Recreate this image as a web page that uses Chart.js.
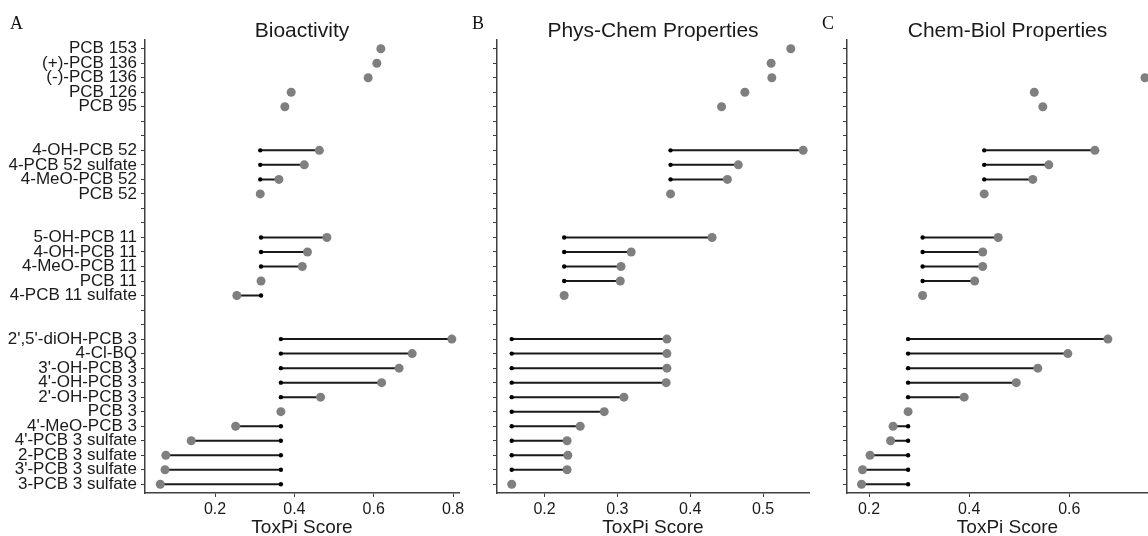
<!DOCTYPE html>
<html>
<head>
<meta charset="utf-8">
<script src="https://cdn.jsdelivr.net/npm/chart.js@4.4.0/dist/chart.umd.min.js"></script>
<style>
  html, body { margin: 0; padding: 0; background: #fff; }
  body { width: 1148px; height: 536px; overflow: hidden; position: relative; }
  canvas { position: absolute; top: 0; }
  .tag { position: absolute; top: 15px; font-family: "Liberation Serif", "Times New Roman", serif; font-size: 18px; line-height: 17px; color: #111; }
</style>
</head>
<body>
<canvas id="chartA" width="470" height="536" style="left:0;width:470px;height:536px"></canvas>
<canvas id="chartB" width="350" height="536" style="left:470px;width:350px;height:536px"></canvas>
<canvas id="chartC" width="360" height="536" style="left:820px;width:360px;height:536px"></canvas>
<div class="tag" style="left:10px">A</div>
<div class="tag" style="left:472px">B</div>
<div class="tag" style="left:822px">C</div>
<script>
// 행 이름 (위에서 아래 순서, 빈 문자열은 그룹 사이 빈 줄)
const rowLabels = [
  'PCB 153', '(+)-PCB 136', '(-)-PCB 136', 'PCB 126', 'PCB 95', '', '',
  '4-OH-PCB 52', '4-PCB 52 sulfate', '4-MeO-PCB 52', 'PCB 52', '', '',
  '5-OH-PCB 11', '4-OH-PCB 11', '4-MeO-PCB 11', 'PCB 11', '4-PCB 11 sulfate', '', '',
  "2',5'-diOH-PCB 3", '4-Cl-BQ', "3'-OH-PCB 3", "4'-OH-PCB 3", "2'-OH-PCB 3", 'PCB 3',
  "4'-MeO-PCB 3", "4'-PCB 3 sulfate", '2-PCB 3 sulfate', "3'-PCB 3 sulfate", '3-PCB 3 sulfate'
];

// Bioactivity
const bioScore = [0.618, 0.608, 0.586, 0.392, 0.376, null, null,
  0.463, 0.425, 0.361, 0.314, null, null,
  0.482, 0.433, 0.420, 0.316, 0.255, null, null,
  0.797, 0.697, 0.664, 0.620, 0.466, 0.366, 0.252, 0.140, 0.076, 0.074, 0.062];
const bioParent = [null, null, null, null, null, null, null,
  0.314, 0.314, 0.314, null, null, null,
  0.316, 0.316, 0.316, null, 0.316, null, null,
  0.366, 0.366, 0.366, 0.366, 0.366, null, 0.366, 0.366, 0.366, 0.366, 0.366];
const bioTicks = [0.2, 0.4, 0.6, 0.8];

// Phys-Chem Properties
const physScore = [0.538, 0.511, 0.512, 0.475, 0.443, null, null,
  0.555, 0.466, 0.451, 0.373, null, null,
  0.430, 0.319, 0.305, 0.304, 0.227, null, null,
  0.368, 0.368, 0.368, 0.367, 0.309, 0.282, 0.249, 0.231, 0.232, 0.231, 0.155];
const physParent = [null, null, null, null, null, null, null,
  0.373, 0.373, 0.373, null, null, null,
  0.227, 0.227, 0.227, 0.227, null, null, null,
  0.155, 0.155, 0.155, 0.155, 0.155, 0.155, 0.155, 0.155, 0.155, 0.155, null];
const physTicks = [0.2, 0.3, 0.4, 0.5];

// Chem-Biol Properties (위 두 점은 그림 오른쪽 밖으로 잘림)
const chemScore = [0.778, 0.774, 0.751, 0.530, 0.547, null, null,
  0.651, 0.559, 0.527, 0.430, null, null,
  0.458, 0.427, 0.427, 0.411, 0.307, null, null,
  0.677, 0.597, 0.537, 0.494, 0.390, 0.278, 0.248, 0.243, 0.202, 0.187, 0.185];
const chemParent = [null, null, null, null, null, null, null,
  0.430, 0.430, 0.430, null, null, null,
  0.307, 0.307, 0.307, 0.307, null, null, null,
  0.278, 0.278, 0.278, 0.278, 0.278, null, 0.278, 0.278, 0.278, 0.278, 0.278];
const chemTicks = [0.2, 0.4, 0.6];

const textColor = '#1a1a1a';
const axisColor = '#404040';
Chart.defaults.font.family = "'Liberation Sans', Arial, sans-serif";

// 위에서부터 i번째 행 -> y 값
const rowY = i => rowLabels.length - 1 - i;

// 패널 제목을 플롯 영역 가운데에 그림
const panelTitle = {
  id: 'panelTitle',
  afterDraw(chart, args, opts) {
    const { ctx, chartArea } = chart;
    ctx.save();
    ctx.fillStyle = textColor;
    ctx.font = "21px 'Liberation Sans', Arial, sans-serif";
    ctx.textAlign = 'center';
    ctx.textBaseline = 'alphabetic';
    ctx.fillText(opts.text, (chartArea.left + chartArea.right) / 2, 37);
    ctx.restore();
  }
};

function makePanel(id, title, scores, parents, ticks, xMin, xMax, yWidth, padRight, showLabels) {
  const dots = [], parentDots = [], segments = [];
  scores.forEach((v, i) => {
    if (v !== null) dots.push({ x: v, y: rowY(i) });
    if (parents[i] !== null) {
      parentDots.push({ x: parents[i], y: rowY(i) });
      segments.push({ x: parents[i], y: rowY(i) }, { x: v, y: rowY(i) }, { x: null, y: null });
    }
  });

  return new Chart(document.getElementById(id), {
    type: 'scatter',
    data: {
      datasets: [
        { data: dots, pointRadius: 4.5, pointBackgroundColor: '#7f7f7f', pointBorderWidth: 0 },
        { data: parentDots, pointRadius: 2.2, pointBackgroundColor: '#000', pointBorderWidth: 0 },
        { data: segments, showLine: true, spanGaps: false, borderColor: '#1a1a1a', borderWidth: 2, pointRadius: 0 }
      ]
    },
    options: {
      responsive: false,
      animation: false,
      layout: { padding: { top: 40, right: padRight, bottom: 0, left: 0 } },
      plugins: {
        legend: { display: false },
        tooltip: { enabled: false },
        panelTitle: { text: title }
      },
      scales: {
        x: {
          type: 'linear', min: xMin, max: xMax,
          afterBuildTicks: s => { s.ticks = ticks.map(v => ({ value: v })); },
          afterFit: s => { s.height = 43; },
          ticks: { color: textColor, font: { size: 16 }, padding: 3, callback: v => String(v) },
          grid: { drawOnChartArea: false, drawTicks: true, tickLength: 4, color: axisColor },
          border: { display: true, color: axisColor, width: 1.5 },
          title: { display: true, text: 'ToxPi Score', color: textColor, font: { size: 19, lineHeight: 1 }, padding: { top: 0, bottom: -1 } }
        },
        y: {
          type: 'linear', min: -0.6, max: rowLabels.length - 0.4,
          afterBuildTicks: s => { s.ticks = rowLabels.map((_, i) => ({ value: i })); },
          afterFit: s => { s.width = yWidth; },
          ticks: {
            autoSkip: false, color: textColor, font: { size: 17 }, padding: 4,
            callback: v => showLabels ? rowLabels[rowLabels.length - 1 - v] : ''
          },
          grid: { drawOnChartArea: false, drawTicks: true, tickLength: 4, color: axisColor },
          border: { display: true, color: axisColor, width: 1.5 }
        }
      }
    },
    plugins: [panelTitle]
  });
}

makePanel('chartA', 'Bioactivity', bioScore, bioParent, bioTicks, 0.0235, 0.815, 145, 11, true);
makePanel('chartB', 'Phys-Chem Properties', physScore, physParent, physTicks, 0.1348, 0.563, 27, 11, false);
makePanel('chartC', 'Chem-Biol Properties', chemScore, chemParent, chemTicks, 0.156, 0.797, 27, 12, false);
</script>
</body>
</html>
